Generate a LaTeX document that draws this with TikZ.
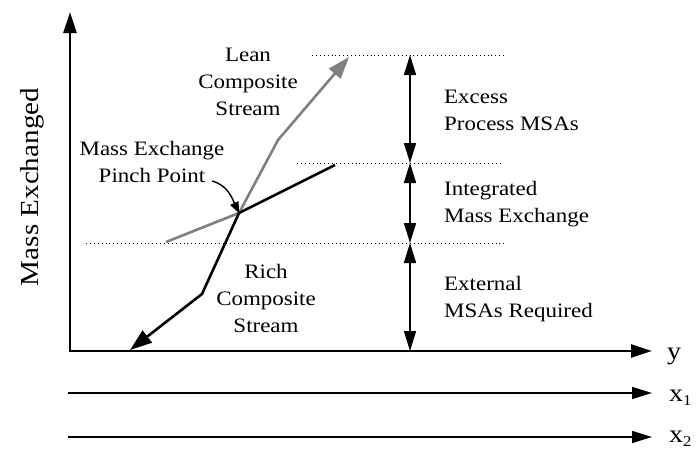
\documentclass[tikz,border=0pt]{standalone}
\usepackage{fontspec}
\setmainfont{Liberation Serif}[FakeStretch=1.12]
\usetikzlibrary{arrows.meta}
\begin{document}
\begin{tikzpicture}[x=1pt,y=-1pt,
  lbl/.style={font=\fontsize{20.5}{27}\selectfont, inner sep=0pt},
  axlbl/.style={font=\fontsize{25}{30}\selectfont, inner sep=0pt, anchor=base west},
  axisline/.style={line width=2.6pt, line join=miter},
  thinaxis/.style={line width=1.6pt, -{Triangle[length=20pt,width=12pt]}},
  dimarrow/.style={line width=1.6pt, {Triangle[length=20pt,width=12pt]}-{Triangle[length=20pt,width=12pt]}},
  dotline/.style={line width=0.9pt, dash pattern=on 0.9pt off 3pt},
  lean/.style={line width=2.6pt, draw={rgb,255:red,128;green,128;blue,128}, line join=miter,
    -{Triangle[length=22pt,width=15pt]}},
  rich/.style={line width=2.6pt, line join=miter, -{Triangle[length=22pt,width=15pt]}}
]
\useasboundingbox (0,0) rectangle (696,450);

% axes
\coordinate (ytop) at (70,12);
\coordinate (orig) at (70,351);
\coordinate (yend) at (652,351);
\draw[axisline, {Triangle[length=21pt,width=13pt]}-{Triangle[length=21pt,width=13pt]}]
  (ytop) -- (orig) -- (yend);
\coordinate (xa) at (68,393);
\coordinate (xaend) at (652,393);
\draw[thinaxis] (xa) -- (xaend);
\coordinate (xb) at (68,437);
\coordinate (xbend) at (652,437);
\draw[thinaxis] (xb) -- (xbend);

\node[axlbl] (ly) at (667,359) {y};
\node[axlbl] (lx1) at (669,401) {x\raisebox{-4pt}{\fontsize{15}{15}\selectfont 1}};
\node[axlbl] (lx2) at (669,442) {x\raisebox{-4pt}{\fontsize{15}{15}\selectfont 2}};

\node[font=\fontsize{26}{30}\selectfont, inner sep=0pt, rotate=90, anchor=base] (ylab) at (38,187) {Mass Exchanged};

% level lines
\coordinate (t1) at (312,55);  \coordinate (t2) at (504,55);
\coordinate (m1) at (297,163); \coordinate (m2) at (502,163);
\coordinate (b1) at (86,243);  \coordinate (b2) at (507,243);
\draw[dotline] (t1) -- (t2);
\draw[dotline] (m1) -- (m2);
\draw[dotline] (b1) -- (b2);

% dimension arrows
\coordinate (d0) at (410,55);
\coordinate (d1) at (410,163);
\coordinate (d2) at (410,243);
\coordinate (d3) at (410,351);
\draw[dimarrow] (d0) -- (d1);
\draw[dimarrow] (d1) -- (d2);
\draw[dimarrow] (d2) -- (d3);

% composite streams
\coordinate (g0) at (166,242);
\coordinate (pinch) at (239,213);
\coordinate (g1) at (278,140);
\coordinate (g2) at (349,57);
\coordinate (r0) at (335,165);
\coordinate (r1) at (202,294);
\coordinate (r2) at (130,350);
\draw[lean] (g0) -- (pinch) -- (g1) -- (g2);
\draw[rich] (r0) -- (pinch) -- (r1) -- (r2);

% labels (base anchor = baseline of the last line)
\node[lbl, align=center, anchor=base] (leanlbl) at (248,115) {Lean\\Composite\\Stream};
\node[lbl, align=center, anchor=base] (richlbl) at (266,332) {Rich\\Composite\\Stream};
\node[lbl, align=center, anchor=base] (pinchlbl) at (152,182) {Mass Exchange\\Pinch Point};
\node[lbl, align=left, anchor=base west] (exlbl) at (444,130) {Excess\\Process MSAs};
\node[lbl, align=left, anchor=base west] (inlbl) at (444,222) {Integrated\\Mass Exchange};
\node[lbl, align=left, anchor=base west] (extlbl) at (444,317) {External\\MSAs Required};

\coordinate (pa) at (212,181);
\draw[line width=1.4pt, -{Triangle[length=11pt,width=9pt]}] (pa) to[out=-15,in=115] (pinch);
\end{tikzpicture}
\end{document}
